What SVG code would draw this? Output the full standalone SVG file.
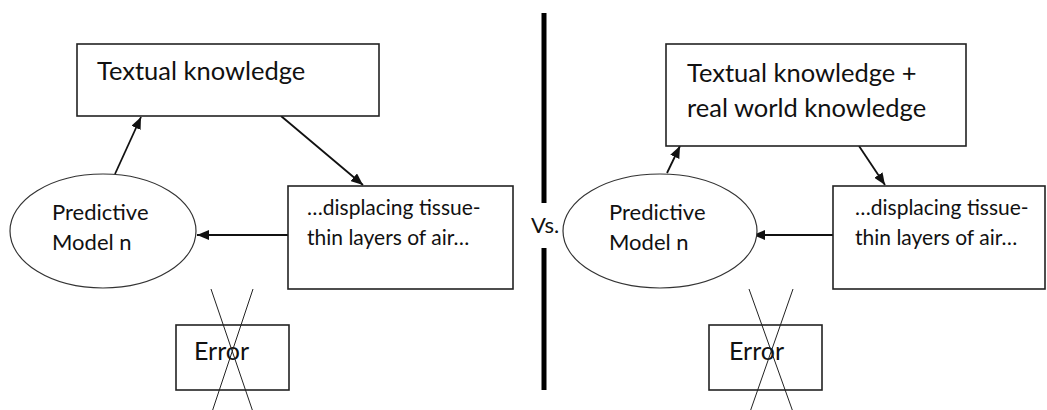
<svg xmlns="http://www.w3.org/2000/svg" width="1047" height="410" viewBox="0 0 1047 410">
<style>
.box{fill:#fff;stroke:#222;stroke-width:1.6}
.ell{fill:#fff;stroke:#333;stroke-width:1.2}
.t{font-family:Lato,"Carlito","Liberation Sans",sans-serif;fill:#111}
.big{font-size:25.5px}
.mid{font-size:21px}
.pm{font-size:22px}
.err{font-size:25px}
.conn{stroke:#111;stroke-width:1.8;fill:none;marker-end:url(#ah)}
.x{stroke:#222;stroke-width:1}
</style>
<defs>
<marker id="ah" viewBox="0 0 12 10" refX="12" refY="5" markerWidth="12" markerHeight="10" markerUnits="userSpaceOnUse" orient="auto">
<path d="M0,0 L12,5 L0,10 z" fill="#111"/>
</marker>
</defs>
<rect width="1047" height="410" fill="#fff"/>

<g id="divider">
<line x1="544" y1="13" x2="544" y2="203" stroke="#000" stroke-width="5"/>
<line x1="544" y1="248" x2="544" y2="390" stroke="#000" stroke-width="5"/>
<text class="t" style="font-size:22px" x="531" y="233">Vs.</text>
</g>

<g id="connectors">
<line class="conn" x1="115" y1="174" x2="141" y2="117"/>
<line class="conn" x1="281" y1="116" x2="363" y2="185"/>
<line class="conn" x1="288" y1="235" x2="197" y2="235"/>
<line class="conn" x1="667" y1="173" x2="680" y2="146"/>
<line class="conn" x1="859" y1="146" x2="885" y2="185"/>
<line class="conn" x1="833" y1="235" x2="753" y2="235"/>
</g>

<g id="left-knowledge">
<rect class="box" x="77" y="44" width="302" height="72"/>
<text class="t big" x="97" y="80">Textual knowledge</text>
</g>
<g id="left-model">
<ellipse class="ell" cx="103" cy="231" rx="93" ry="57"/>
<text class="t pm" x="52" y="220">Predictive</text>
<text class="t pm" x="52" y="250">Model n</text>
</g>
<g id="left-input">
<rect class="box" x="288" y="186" width="225" height="103"/>
<text class="t mid" x="307" y="215">…displacing tissue-</text>
<text class="t mid" x="307" y="245">thin layers of air…</text>
</g>
<g id="left-error">
<rect class="box" x="176" y="325" width="113" height="65"/>
<text class="t err" x="194" y="360">Error</text>
<line class="x" x1="211" y1="289" x2="253" y2="412"/>
<line class="x" x1="253" y1="289" x2="212" y2="412"/>
</g>

<g id="right-knowledge">
<rect class="box" x="666" y="44" width="300" height="102"/>
<text class="t big" x="687" y="82">Textual knowledge +</text>
<text class="t big" x="687" y="117">real world knowledge</text>
</g>
<g id="right-model">
<ellipse class="ell" cx="660" cy="231" rx="97" ry="57"/>
<text class="t pm" x="609" y="220">Predictive</text>
<text class="t pm" x="609" y="250">Model n</text>
</g>
<g id="right-input">
<rect class="box" x="833" y="186" width="212" height="103"/>
<text class="t mid" x="855" y="215">…displacing tissue-</text>
<text class="t mid" x="855" y="245">thin layers of air…</text>
</g>
<g id="right-error">
<rect class="box" x="709" y="325" width="113" height="65"/>
<text class="t err" x="729" y="360">Error</text>
<line class="x" x1="749" y1="289" x2="793" y2="412"/>
<line class="x" x1="793" y1="289" x2="750" y2="412"/>
</g>
</svg>
